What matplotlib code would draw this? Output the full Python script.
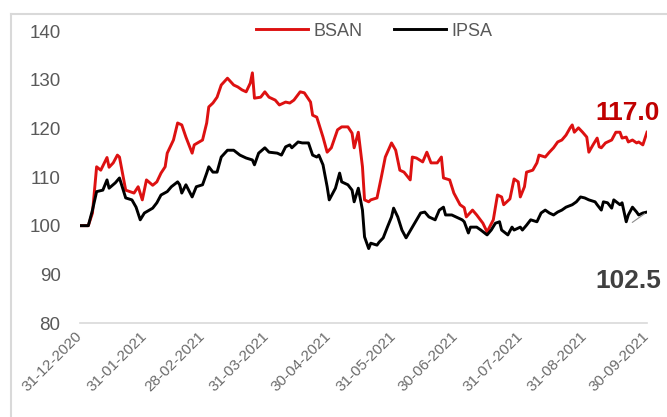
import matplotlib
matplotlib.use("Agg")
import matplotlib.pyplot as plt
import pandas as pd
from matplotlib.lines import Line2D

# values, x = day offset from 31-12-2020
start_date = "2020-12-31"
tick_dates = ["2020-12-31", "2021-01-31", "2021-02-28", "2021-03-31", "2021-04-30",
              "2021-05-31", "2021-06-30", "2021-07-31", "2021-08-31", "2021-09-30"]

bsan_day = [0, 4, 6, 8, 10, 13, 14, 16, 18, 19, 22, 24, 26, 28, 30, 32, 35, 37, 39, 41,
            42, 45, 47, 49, 51, 54, 55, 59, 61, 62, 64, 66, 68, 71, 74, 76, 78, 80, 82, 83,
            84, 87, 89, 91, 94, 96, 99, 101, 103, 106, 108, 111, 112, 114, 117, 119, 121, 124, 126, 129,
            131, 132, 134, 136, 137, 139, 140, 143, 145, 147, 149, 150, 152, 154, 156, 159, 160, 162, 165, 167,
            169, 172, 174, 175, 178, 180, 183, 185, 186, 189, 191, 194, 196, 199, 201, 203, 204, 207, 209, 211,
            212, 214, 215, 218, 220, 221, 224, 226, 228, 230, 232, 234, 236, 237, 238, 240, 242, 244, 245, 247,
            249, 250, 251, 253, 256, 258, 260, 261, 263, 264, 266, 268, 269, 271, 273]
bsan_val = [100, 100, 102.6, 112.1, 111.4, 114, 112, 112.9, 114.5, 114.1, 107.3, 107, 106.7, 108, 105.3, 109.4, 108.3, 109, 110.8, 112.1,
            114.9, 117.6, 121.1, 120.7, 118.2, 114.9, 116.6, 117.6, 121.1, 124.4, 125.2, 126.4, 128.9, 130.3, 128.9, 128.5, 127.9, 127.5, 129.3, 131.4,
            126.2, 126.4, 127.5, 126.4, 125.8, 124.8, 125.4, 125.2, 125.8, 127.5, 127.3, 125.4, 122.7, 122.3, 118.2, 115.1, 116, 119.7, 120.3, 120.3,
            119, 116, 119.2, 112.1, 105.3, 104.9, 105.3, 105.7, 109.8, 114.1, 116, 117, 115.5, 111.4, 111, 109.4, 114.1, 113.9, 113.1, 115.1,
            112.9, 112.9, 114.1, 109.8, 109.4, 106.7, 104.3, 103.7, 101.8, 103.2, 102.2, 100.5, 98.7, 101.2, 106.3, 105.9, 104.3, 105.5, 109.6, 109,
            105.9, 108, 111, 111.4, 112.9, 114.5, 114.1, 115.1, 116, 117.2, 117.6, 118.6, 120.1, 120.7, 119.2, 120.1, 119.2, 118.2, 115.1, 116.6,
            118, 116.2, 116, 117, 117.6, 119.2, 119.2, 118, 118.2, 117.2, 117.6, 117, 117.2, 116.6, 119.2]

ipsa_day = [0, 4, 6, 8, 11, 13, 14, 17, 19, 22, 25, 27, 29, 31, 35, 37, 39, 42, 44, 47,
            48, 49, 51, 54, 56, 59, 61, 62, 64, 66, 68, 71, 74, 77, 80, 83, 84, 86, 89, 91,
            95, 97, 99, 101, 102, 105, 107, 110, 112, 114, 115, 117, 119, 120, 123, 125, 126, 129, 131, 132,
            134, 136, 137, 139, 140, 143, 144, 146, 148, 150, 151, 153, 155, 157, 160, 162, 164, 166, 168, 171,
            173, 175, 176, 179, 181, 184, 185, 187, 188, 191, 193, 196, 198, 200, 202, 203, 206, 208, 209, 212,
            213, 215, 217, 220, 222, 224, 226, 228, 230, 232, 234, 237, 239, 241, 243, 245, 248, 249, 251, 252,
            254, 256, 257, 260, 261, 263, 264, 266, 268, 269, 271, 273]
ipsa_val = [100, 100, 103.2, 107, 107.3, 109.4, 107.7, 108.8, 109.8, 105.7, 105.3, 103.8, 101.2, 102.6, 103.6, 104.7, 106.3, 107, 108, 109,
            108.4, 106.7, 108.4, 105.9, 108, 108.4, 110.8, 112.1, 111, 111, 114.1, 115.5, 115.5, 114.5, 113.9, 113.5, 112.5, 114.9, 116, 115.1,
            114.9, 114.5, 116.2, 116.6, 116, 117.2, 117, 117, 114.5, 114.1, 114.5, 112.5, 108, 105.3, 107.7, 110.8, 109, 108.4, 107.3, 104.9,
            107.7, 103.2, 97.7, 95.3, 96.4, 96, 96.6, 97.5, 99.7, 101.8, 103.6, 101.8, 99.1, 97.5, 99.7, 101.2, 102.6, 102.8, 101.8, 101.2,
            103.2, 103.8, 102.2, 102.2, 101.8, 101.2, 100.8, 98.5, 99.7, 99.7, 99.1, 98.1, 99.1, 100.5, 100.8, 99.1, 98.1, 99.7, 99.1, 99.7,
            99.1, 100.1, 101.2, 100.8, 102.6, 103.2, 102.6, 102.2, 102.8, 103.2, 103.8, 104.3, 104.9, 105.9, 105.7, 105.3, 104.9, 104.3, 103.2, 104.9,
            104.7, 103.6, 105.3, 104.3, 104.7, 100.8, 102.2, 103.8, 102.8, 102.2, 102.6, 102.8]

bsan_label = "117.0"
ipsa_label = "102.5"

plt.rcParams["font.family"] = ["Liberation Sans", "DejaVu Sans"]

base = pd.Timestamp(start_date)
bsan_x = base + pd.to_timedelta(bsan_day, unit="D")
ipsa_x = base + pd.to_timedelta(ipsa_day, unit="D")
ticks = pd.to_datetime(tick_dates)

fig = plt.figure(figsize=(6.67, 4.17), dpi=100)
ax = fig.add_axes([80 / 667, 1 - 323 / 417, 567 / 667, 292 / 417])

ax.plot(bsan_x, bsan_val, color="#DD1111", lw=2.1, label="BSAN")
ax.plot(ipsa_x, ipsa_val, color="black", lw=2.1, label="IPSA")

ax.set_xlim(ticks[0], ticks[-1])
ax.set_ylim(80, 140)
ax.set_yticks(range(80, 141, 10))
ax.set_xticks(ticks)
ax.set_xticklabels([t.strftime("%d-%m-%Y") for t in ticks], rotation=45,
                   ha="right", va="center", rotation_mode="anchor")

for side in ["top", "right", "left"]:
    ax.spines[side].set_visible(False)
ax.spines["bottom"].set_color("#d9d9d9")
ax.spines["bottom"].set_linewidth(1.2)
ax.tick_params(axis="y", length=0, pad=14, labelsize=13.5, labelcolor="#595959")
ax.tick_params(axis="x", length=0, pad=8, labelsize=11, labelcolor="#6b6b6b")

ax.legend(loc="center", bbox_to_anchor=(0.519, 1.0), ncol=2, frameon=False,
          fontsize=13, labelcolor="#595959", handlelength=2.9, handletextpad=0.3,
          columnspacing=1.7, borderaxespad=0)

ax.annotate(bsan_label, xy=(bsan_x[-1], bsan_val[-1]), xytext=(-19, 19),
            textcoords="offset pixels", ha="center", va="center",
            fontsize=19, fontweight="bold", color="#C00000", annotation_clip=False)
ax.annotate(ipsa_label, xy=(ipsa_x[-1], ipsa_val[-1]), xytext=(-19, -69),
            textcoords="offset pixels", ha="center", va="center",
            fontsize=19, fontweight="bold", color="#404040", annotation_clip=False)
ax.annotate("", xy=(ipsa_x[-1], ipsa_val[-1]), xytext=(-17, -12),
            textcoords="offset pixels",
            arrowprops=dict(arrowstyle="-", color="#8c8c8c", lw=0.8))

# light frame of the chart area
fig.add_artist(Line2D([11 / 667, 11 / 667], [0, 1 - 14 / 417], transform=fig.transFigure,
                      color="#d9d9d9", lw=1.5))
fig.add_artist(Line2D([11 / 667, 1], [1 - 14 / 417, 1 - 14 / 417], transform=fig.transFigure,
                      color="#d9d9d9", lw=1.5))

fig.savefig("out.png", dpi=100)
